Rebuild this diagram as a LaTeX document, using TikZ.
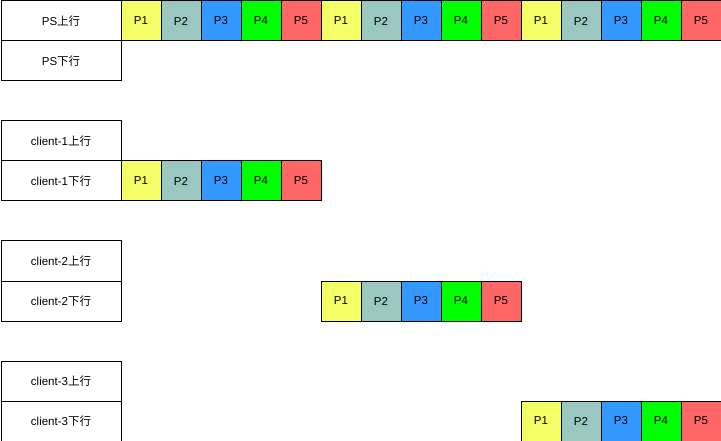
\documentclass[tikz,border=0pt]{standalone}
\usepackage{fontspec}
\setmainfont{Liberation Sans}
\newfontfamily\cjk{Noto Sans CJK SC}
\definecolor{cA}{HTML}{F4FF66}
\definecolor{cB}{HTML}{9AC7BF}
\definecolor{cC}{HTML}{3399FF}
\definecolor{cD}{HTML}{00FF00}
\definecolor{cE}{HTML}{FF6666}
\tikzset{
  lbl/.style={draw=black, line width=1pt, minimum width=120pt, minimum height=40pt, inner sep=0pt, anchor=north west, font=\fontsize{11.5}{13}\selectfont},
  cell/.style={draw=black, line width=1pt, minimum width=40pt, minimum height=40pt, inner sep=0pt, anchor=north west, font=\fontsize{11.5}{13}\selectfont}
}
\begin{document}
\begin{tikzpicture}[x=1pt,y=-1pt]
\useasboundingbox (0,0) rectangle (721,441);
\node[lbl] (psu) at (0.5,0.5) {PS{\cjk 上行}};
\node[lbl] (psd) at (0.5,40.5) {PS{\cjk 下行}};
\node[lbl] (c1u) at (0.5,120.5) {client-1{\cjk 上行}};
\node[lbl] (c1d) at (0.5,160.5) {client-1{\cjk 下行}};
\node[lbl] (c2u) at (0.5,240.5) {client-2{\cjk 上行}};
\node[lbl] (c2d) at (0.5,280.5) {client-2{\cjk 下行}};
\node[lbl] (c3u) at (0.5,360.5) {client-3{\cjk 上行}};
\node[lbl] (c3d) at (0.5,400.5) {client-3{\cjk 下行}};
% PS uplink: three rounds
\foreach \r in {0,1,2}{
  \foreach \i/\c in {1/cA,2/cB,3/cC,4/cD,5/cE}{
    \node[cell, fill=\c] (ps-\r-\i) at ({120.5+200*\r+40*(\i-1)},0.5) {P\i};
  }
}
% client rows
\foreach \k/\y/\x in {1/160.5/120.5, 2/280.5/320.5, 3/400.5/520.5}{
  \foreach \i/\c in {1/cA,2/cB,3/cC,4/cD,5/cE}{
    \node[cell, fill=\c] (cl\k-\i) at ({\x+40*(\i-1)},\y) {P\i};
  }
}
\end{tikzpicture}
\end{document}
